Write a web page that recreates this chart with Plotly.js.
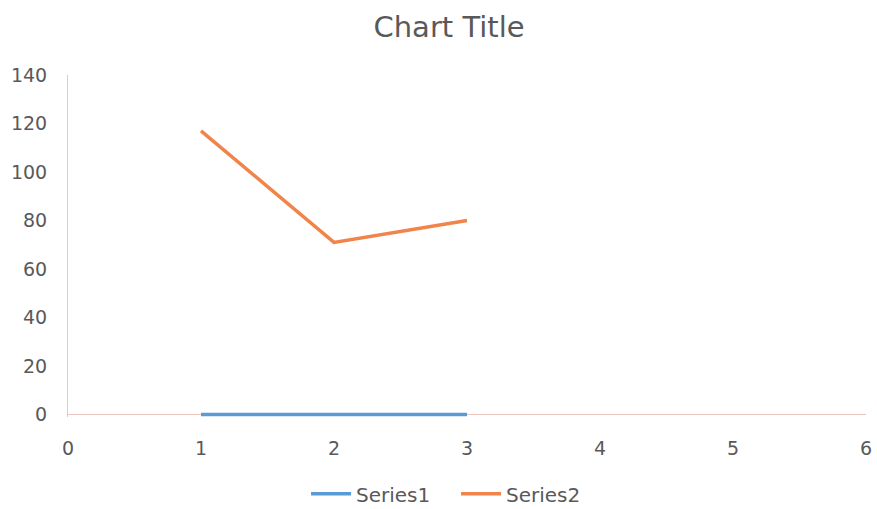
<!DOCTYPE html>
<html><head><meta charset="utf-8">
<script src="https://cdn.plot.ly/plotly-3.0.1.min.js"></script>
<style>html,body{margin:0;padding:0;background:#fff}#c{width:877px;height:509px}</style>
</head><body><div id="c"></div>
<script>
const xValues = [1, 2, 3];
const series1 = [0, 0, 0];
const series2 = [117, 71, 80];
const seriesNames = ["Series1", "Series2"];
const xTicks = [0, 1, 2, 3, 4, 5, 6];
const yTicks = [0, 20, 40, 60, 80, 100, 120, 140];

const font = "DejaVu Sans, sans-serif";
const axisColor = "#eac6be";
const data = [
  {x: xValues, y: series1, name: seriesNames[0], type: "scatter", mode: "lines",
   line: {color: "#5B9BD5", width: 3.5}},
  {x: xValues, y: series2, name: seriesNames[1], type: "scatter", mode: "lines",
   line: {color: "#F0844A", width: 3.5}}
];
const layout = {
  width: 877, height: 509,
  paper_bgcolor: "#fff", plot_bgcolor: "#fff",
  margin: {l: 68, r: 11, t: 75, b: 92},
  font: {family: font, color: "#595959", size: 19},
  title: {text: "Chart Title", font: {family: font, size: 29, color: "#595959"},
          x: 0.512, xanchor: "center", xref: "container", y: 0.948, yanchor: "middle"},
  xaxis: {range: [0, 6], tickvals: xTicks, ticktext: xTicks.map(String),
          showgrid: false, zeroline: false, showline: false,
          ticks: "", ticklabelstandoff: 18, fixedrange: true},
  yaxis: {range: [-1, 140], tickvals: yTicks, ticktext: yTicks.map(String),
          showgrid: false, zeroline: true, zerolinecolor: axisColor, zerolinewidth: 1,
          showline: true, linecolor: axisColor, linewidth: 1,
          ticks: "", ticklabelstandoff: 16, fixedrange: true},
  showlegend: true,
  legend: {orientation: "h", x: 0.52, xanchor: "center", xref: "container",
           y: 0.03, yref: "container", yanchor: "middle", entrywidth: 95,
           font: {family: font, size: 20, color: "#595959"}, itemwidth: 40}
};
Plotly.newPlot("c", data, layout, {displayModeBar: false, staticPlot: true});
</script></body></html>
